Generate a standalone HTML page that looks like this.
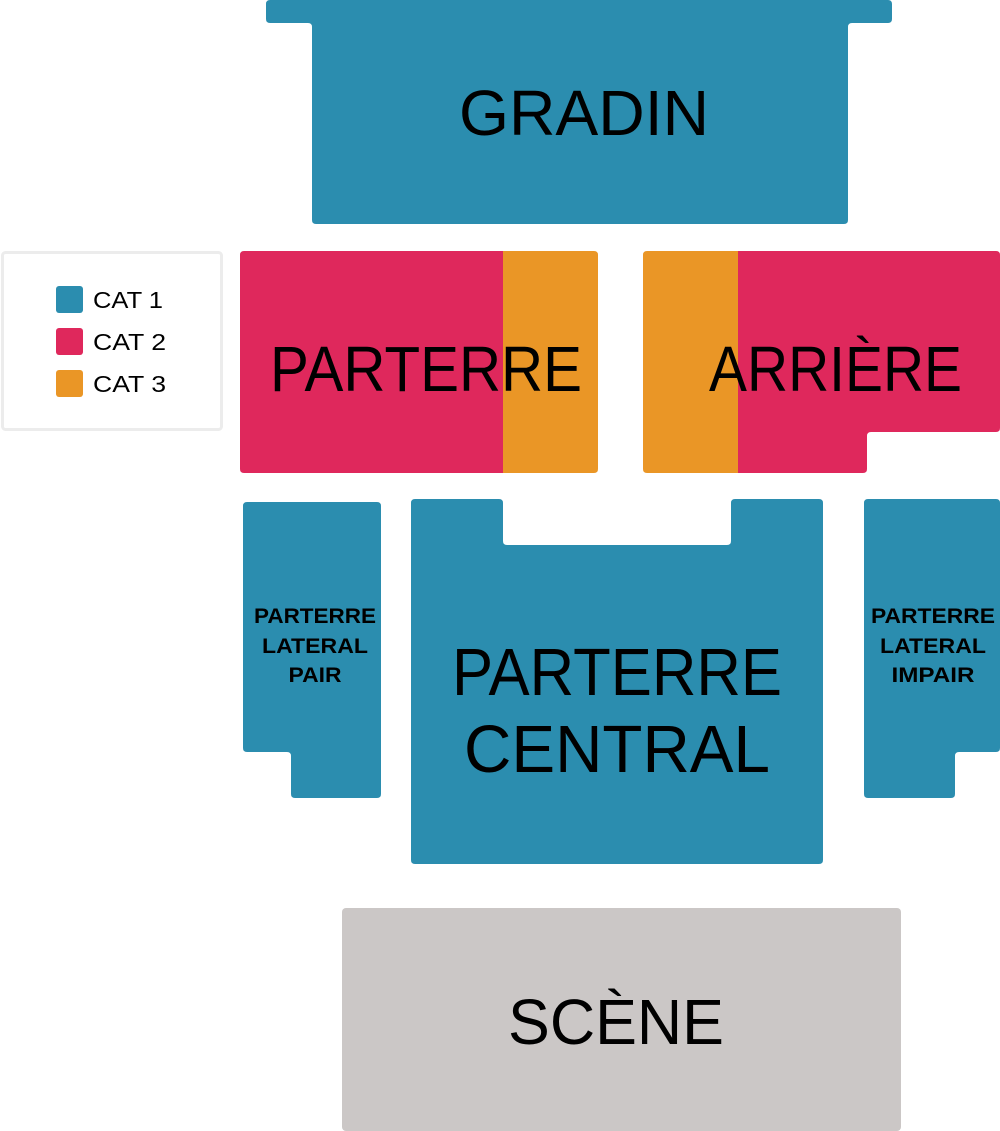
<!DOCTYPE html>
<html><head><meta charset="utf-8"><style>
html,body{margin:0;padding:0;background:#fff;}
svg{display:block;}
text{font-family:"Liberation Sans",sans-serif;fill:#000;}
</style></head><body>
<svg width="1000" height="1131" viewBox="0 0 1000 1131">
<path d="M270 0 H888 Q892 0 892 4 V19 Q892 23 888 23 H852 Q848 23 848 27 V220 Q848 224 844 224 H316 Q312 224 312 220 V27 Q312 23 308 23 H270 Q266 23 266 19 V4 Q266 0 270 0 Z" fill="#2b8daf"/>
<text x="459" y="135" font-size="64" textLength="250" lengthAdjust="spacingAndGlyphs">GRADIN</text>
<rect x="2.5" y="252.5" width="219" height="177" rx="3" fill="#fff" stroke="#ececec" stroke-width="3"/>
<rect x="56" y="286" width="27" height="27" rx="3" fill="#2b8daf"/>
<rect x="56" y="328" width="27" height="27" rx="3" fill="#df285c"/>
<rect x="56" y="370" width="27" height="27" rx="3" fill="#ea9626"/>
<text x="93" y="308" font-size="23" textLength="70" lengthAdjust="spacingAndGlyphs">CAT 1</text>
<text x="93" y="350" font-size="23" textLength="73" lengthAdjust="spacingAndGlyphs">CAT 2</text>
<text x="93" y="392" font-size="23" textLength="73" lengthAdjust="spacingAndGlyphs">CAT 3</text>
<path d="M244 251 H503 V473 H244 Q240 473 240 469 V255 Q240 251 244 251 Z" fill="#df285c"/>
<path d="M503 251 H594 Q598 251 598 255 V469 Q598 473 594 473 H503 Z" fill="#ea9626"/>
<text x="270" y="391" font-size="64" textLength="312" lengthAdjust="spacingAndGlyphs">PARTERRE</text>
<path d="M647 251 H738 V473 H647 Q643 473 643 469 V255 Q643 251 647 251 Z" fill="#ea9626"/>
<path d="M738 251 H996 Q1000 251 1000 255 V428 Q1000 432 996 432 H871 Q867 432 867 436 V469 Q867 473 863 473 H738 Z" fill="#df285c"/>
<text x="709" y="391" font-size="64" textLength="253" lengthAdjust="spacingAndGlyphs">ARRIÈRE</text>
<path d="M247 502 H377 Q381 502 381 506 V794 Q381 798 377 798 H295 Q291 798 291 794 V756 Q291 752 287 752 H247 Q243 752 243 748 V506 Q243 502 247 502 Z" fill="#2b8daf"/>
<g font-size="21" font-weight="bold" text-anchor="middle">
<text x="315" y="623" textLength="122" lengthAdjust="spacingAndGlyphs">PARTERRE</text>
<text x="315" y="653" textLength="106" lengthAdjust="spacingAndGlyphs">LATERAL</text>
<text x="315" y="682" textLength="53" lengthAdjust="spacingAndGlyphs">PAIR</text>
</g>
<path d="M415 499 H499 Q503 499 503 503 V541 Q503 545 507 545 H727 Q731 545 731 541 V503 Q731 499 735 499 H819 Q823 499 823 503 V860 Q823 864 819 864 H415 Q411 864 411 860 V503 Q411 499 415 499 Z" fill="#2b8daf"/>
<text x="452" y="695" font-size="67" textLength="330" lengthAdjust="spacingAndGlyphs">PARTERRE</text>
<text x="464" y="772" font-size="67" textLength="306" lengthAdjust="spacingAndGlyphs">CENTRAL</text>
<path d="M868 499 H996 Q1000 499 1000 503 V748 Q1000 752 996 752 H959 Q955 752 955 756 V794 Q955 798 951 798 H868 Q864 798 864 794 V503 Q864 499 868 499 Z" fill="#2b8daf"/>
<g font-size="21" font-weight="bold" text-anchor="middle">
<text x="933" y="623" textLength="124" lengthAdjust="spacingAndGlyphs">PARTERRE</text>
<text x="933" y="653" textLength="106" lengthAdjust="spacingAndGlyphs">LATERAL</text>
<text x="933" y="682" textLength="83" lengthAdjust="spacingAndGlyphs">IMPAIR</text>
</g>
<rect x="342" y="908" width="559" height="223" rx="4" fill="#cbc7c6"/>
<text x="508" y="1044" font-size="64" textLength="216" lengthAdjust="spacingAndGlyphs">SCÈNE</text>
</svg>
</body></html>
